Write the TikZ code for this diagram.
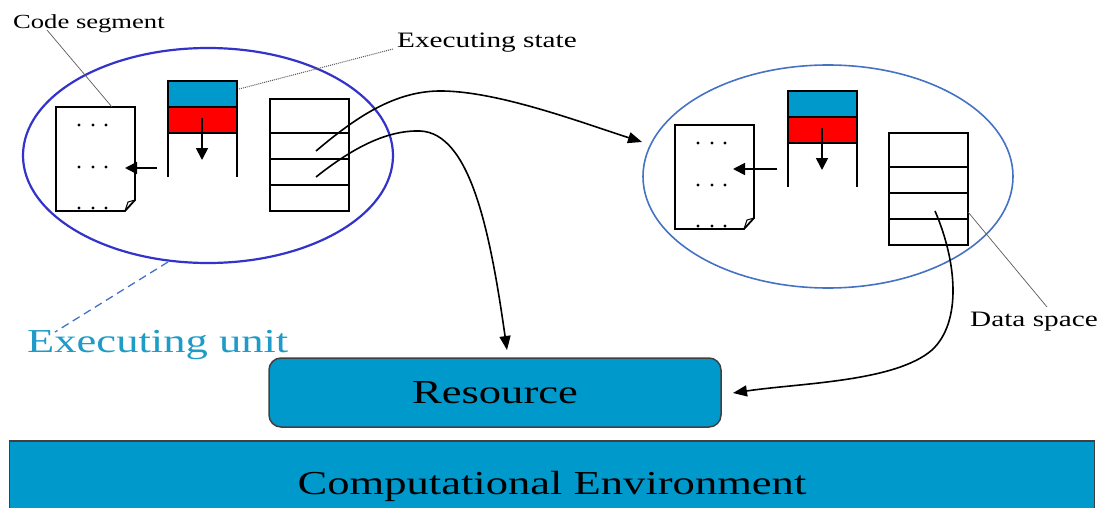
\documentclass[tikz,border=0pt]{standalone}
\usepackage{graphicx}
\usepackage{fontspec}
\setmainfont{Liberation Serif}
\usetikzlibrary{shapes.geometric,arrows.meta}

\definecolor{boxblue}{RGB}{0,153,204}
\definecolor{unitdark}{RGB}{51,51,204}
\definecolor{unitlight}{RGB}{68,114,196}
\definecolor{labelblue}{RGB}{30,155,200}
\definecolor{leadgray}{RGB}{90,90,90}

% wide serif text: the lettering is set horizontally stretched
\newcommand{\wtext}[2]{\scalebox{1.33}[1]{\fontsize{#1pt}{#1pt}\selectfont #2}}

\tikzset{
  part/.style={draw=black, line width=1.8pt},
  inarrow/.style={line width=1.8pt, -{Triangle[length=12pt,width=12pt]}},
  flow/.style={line width=1.6pt, -{Triangle[length=14pt,width=11pt]}},
  leader/.style={draw=leadgray, line width=0.7pt},
  dotleader/.style={draw=leadgray, line width=1pt, dash pattern=on 1pt off 1pt},
  unitlead/.style={draw=unitlight, line width=1.3pt, dash pattern=on 8pt off 5pt},
  lbl/.style={inner sep=0pt, anchor=base west},
  % code segment: a page with a folded corner and rows of dots
  codepage/.pic={
    \draw[part, fill=white] (0,0) -- (79,0) -- (79,93) -- (69,104) -- (0,104) -- cycle;
    \draw[line width=1pt] (69,104) -- (72,95) -- (79,93);
    \foreach \yy in {18,60,101}
      \foreach \xx in {23,37,50}
        \fill (\xx,\yy) circle[radius=1.6pt];
    \coordinate (-corner) at (56,0);
  },
  % executing state: blue and red frames above an open stack
  stackpic/.pic={
    \fill[boxblue] (0,0) rectangle (69,26);
    \fill[red] (0,26) rectangle (69,52);
    \draw[part] (0,0) rectangle (69,52);
    \draw[part] (0,26) -- (69,26);
    \draw[part] (0,52) -- (0,96);
    \draw[part] (69,52) -- (69,96);
    \draw[inarrow] (34,37) -- (34,79);
    \coordinate (-tip) at (71,8);
  },
  % data space: a table of four rows
  datatable/.pic={
    \draw[part] (0,0) rectangle (79,112);
    \foreach \yy in {34,60,86} \draw[part] (0,\yy) -- (79,\yy);
    \coordinate (-r2) at (46,52);
    \coordinate (-r3) at (46,78);
    \coordinate (-edge) at (79,79);
  },
}

\begin{document}
\begin{tikzpicture}[x=1pt,y=-1pt]
\useasboundingbox (0,0) rectangle (1102,508);

% computational environment and resource
\node[draw=black!75, line width=1.5pt, fill=boxblue, inner sep=0pt,
      minimum width=1085, minimum height=90] (env) at (552,486)
      {\wtext{33.5}{Computational Environment}};
\node[draw=black!75, line width=1.5pt, fill=boxblue, rounded corners=12pt, inner sep=0pt,
      minimum width=452, minimum height=69] (res) at (495,392.5)
      {\wtext{33.5}{Resource}};

% executing units
\node[ellipse, draw=unitdark, line width=2.2pt, inner sep=0pt,
      minimum width=370, minimum height=215] (euL) at (208,155.5) {};
\node[ellipse, draw=unitlight, line width=1.6pt, inner sep=0pt,
      minimum width=370, minimum height=223] (euR) at (828,176.5) {};

% contents of the units
\pic (lcs) at (56,107) {codepage};
\pic (les) at (168,81) {stackpic};
\pic (lds) at (270,99) {datatable};
\pic (rcs) at (675,125) {codepage};
\pic (rst) at (788,91) {stackpic};
\pic (rds) at (889,133) {datatable};

% stack pointing into the code
\coordinate (lpc) at (157,168);
\coordinate (lpt) at (125,168);
\draw[inarrow] (lpc) -- (lpt);
\coordinate (rpc) at (777,169);
\coordinate (rpt) at (733,169);
\draw[inarrow] (rpc) -- (rpt);

% references from the data spaces
\coordinate (migr) at (642,142);
\draw[flow] (lds-r2) .. controls (355,118) and (395,90) .. (443,91)
                     .. controls (500,92) and (580,122) .. (migr);
\coordinate (useL) at (507,350);
\draw[flow] (lds-r3) .. controls (350,150) and (385,130) .. (420,131)
                     .. controls (470,133) and (490,230) .. (useL);
\coordinate (useR) at (733,393);
\draw[flow] (rds-r3) .. controls (957,262) and (962,322) .. (932,350)
                     .. controls (895,382) and (800,383) .. (useR);

% labels
\node[lbl] (lcode) at (13,29) {\wtext{20}{Code segment}};
\node[lbl] (lstate) at (397,48) {\wtext{22}{Executing state}};
\node[lbl] (ldata) at (970,326) {\wtext{22}{Data space}};
\node[lbl, text=labelblue] (lunit) at (27,352) {\wtext{33.5}{Executing unit}};

% leader lines
\coordinate (cslead) at (47,30);
\draw[leader] (cslead) -- (lcs-corner);
\coordinate (eslead) at (393,49);
\draw[dotleader] (les-tip) -- (eslead);
\coordinate (dslead) at (1047,307);
\draw[leader] (rds-edge) -- (dslead);
\coordinate (eulead) at (168,262);
\coordinate (eutext) at (55,332);
\draw[unitlead] (eulead) -- (eutext);
\end{tikzpicture}
\end{document}
